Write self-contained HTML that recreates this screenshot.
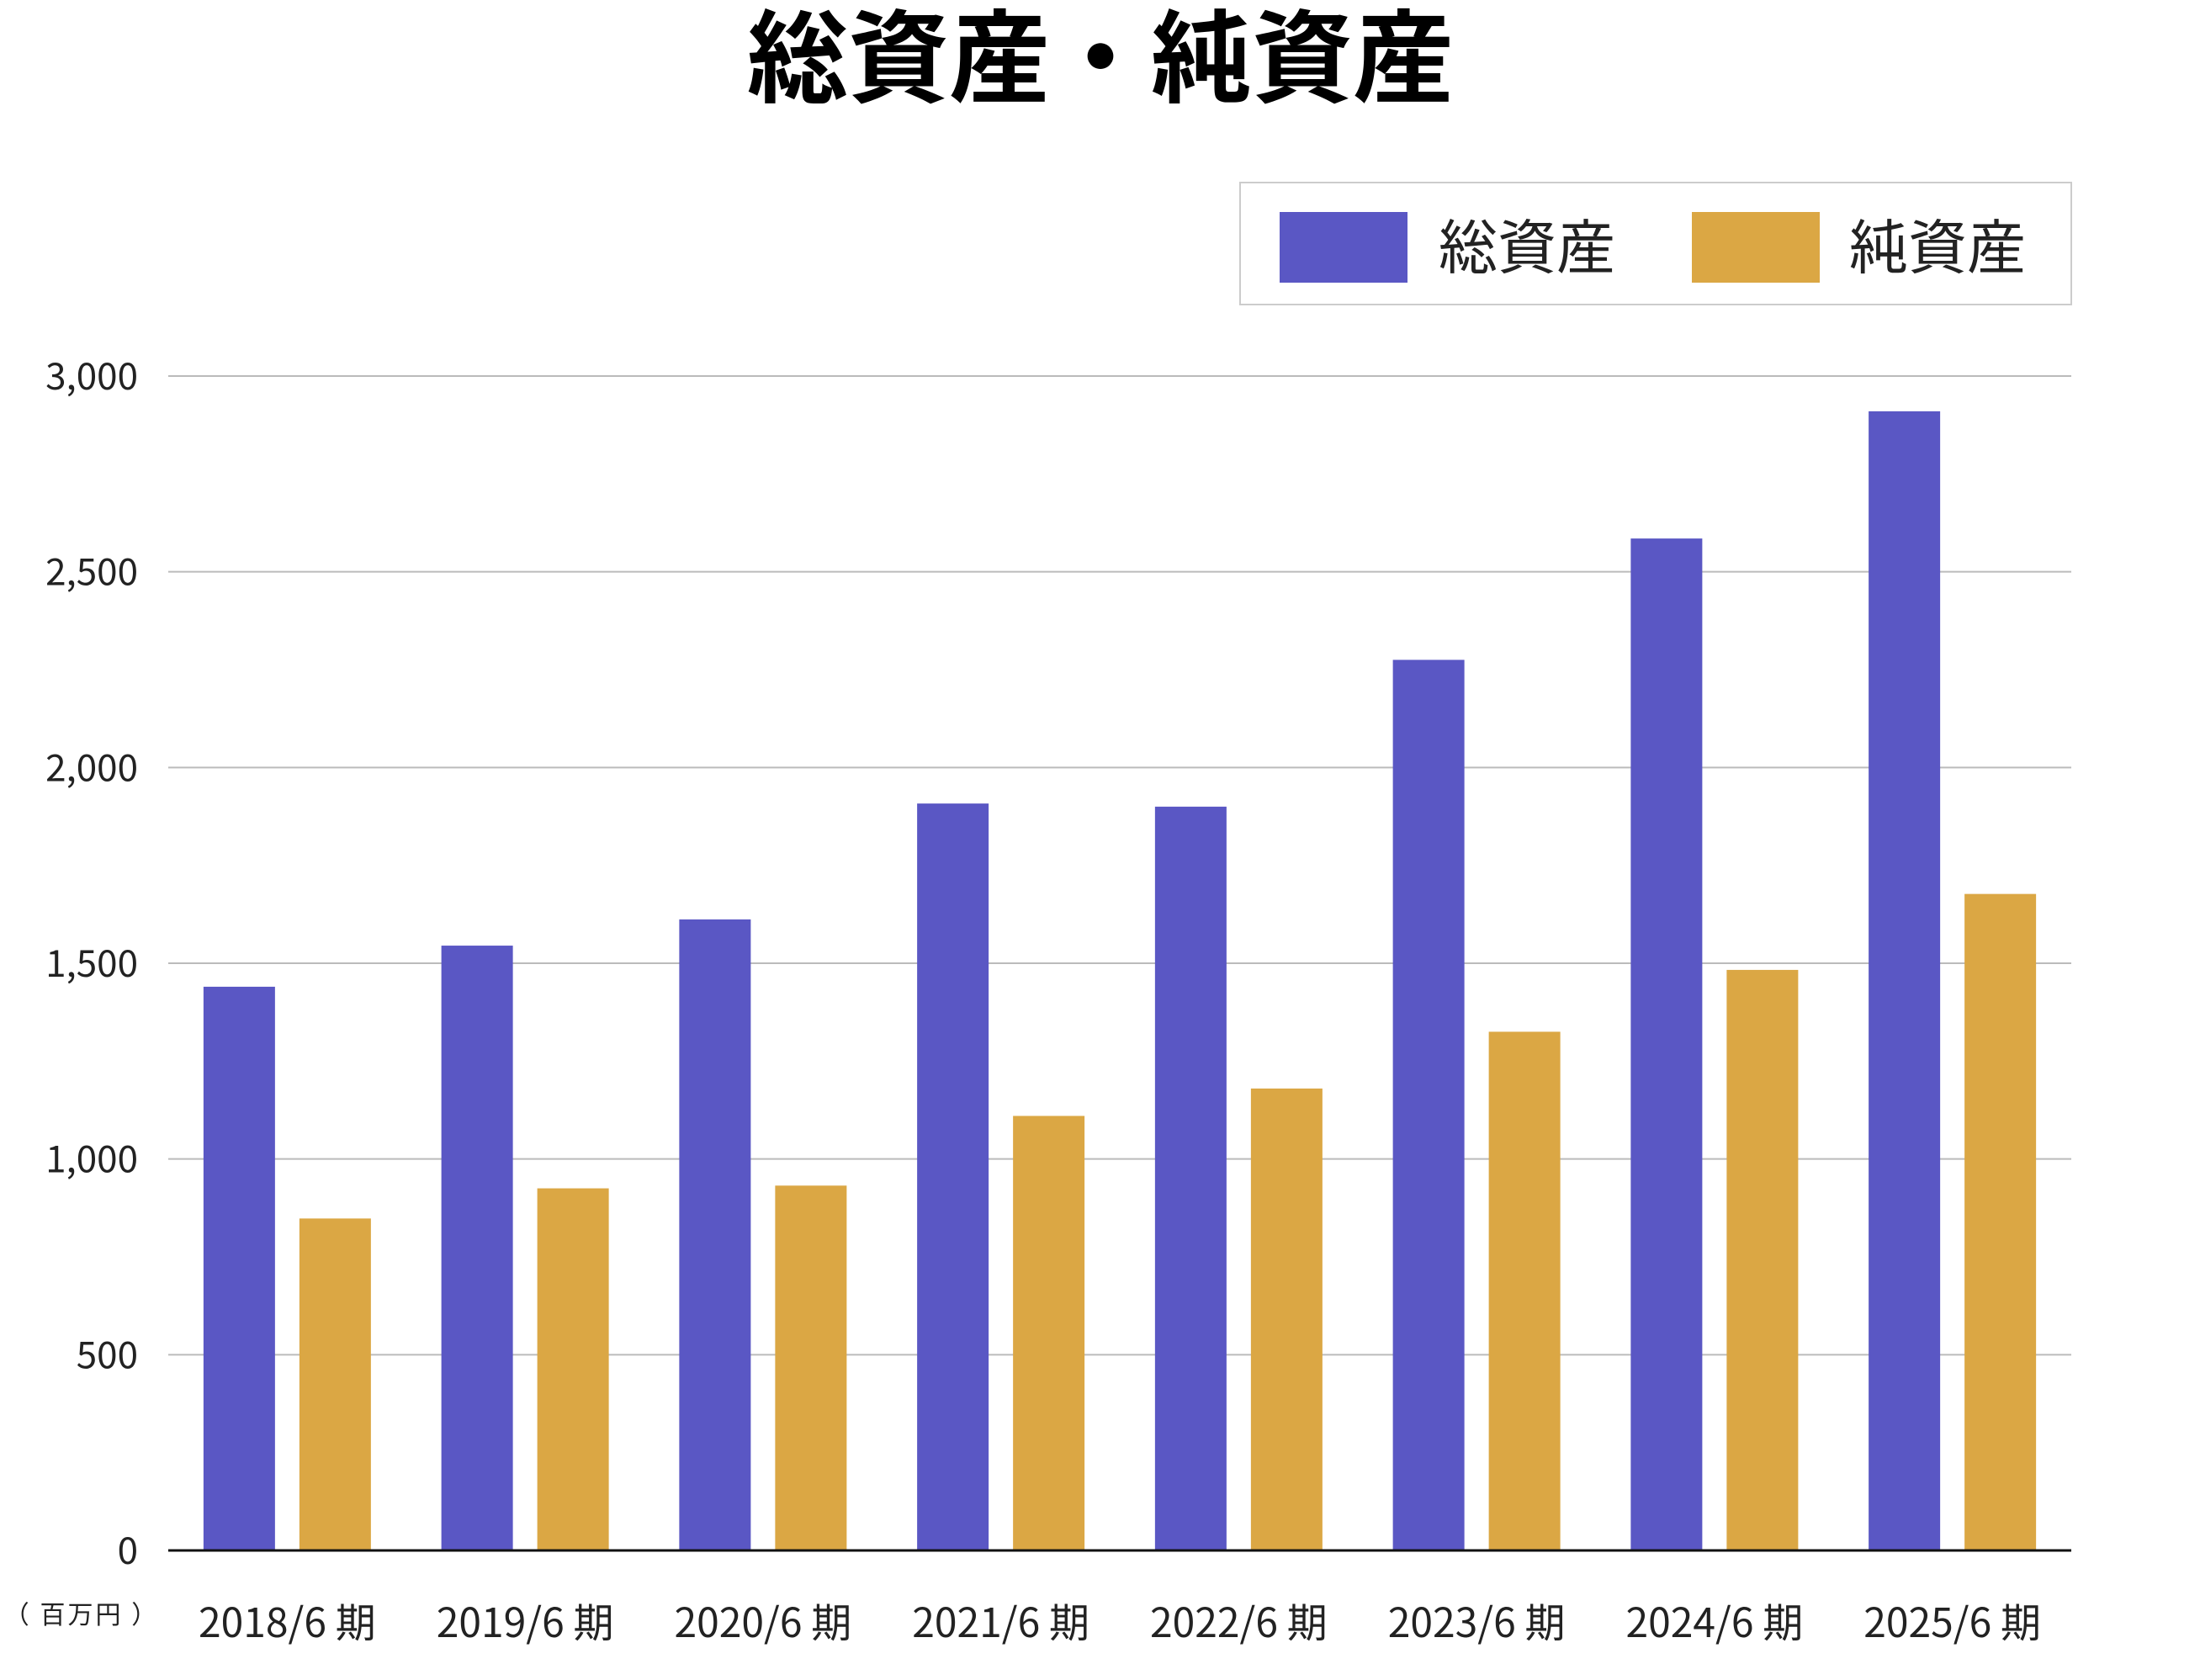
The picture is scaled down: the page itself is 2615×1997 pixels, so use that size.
<!DOCTYPE html>
<html><head><meta charset="utf-8"><style>
html,body{margin:0;padding:0;background:#fff;width:2615px;height:1997px;overflow:hidden}
text{font-family:"Noto Sans CJK JP","Liberation Sans",sans-serif}
</style></head><body>
<svg id="chart" width="2615" height="1997" xmlns="http://www.w3.org/2000/svg">
<text x="1308" y="112" text-anchor="middle" font-size="120" font-weight="bold" fill="#000">総資産・純資産</text>
<g>
<rect x="1474" y="217" width="988" height="145" fill="#fff" stroke="#ccc" stroke-width="2"/>
<rect x="1521" y="252" width="152" height="84" fill="#5a57c4"/>
<text x="1710" y="319" font-size="70" fill="#222">総資産</text>
<rect x="2011" y="252" width="152" height="84" fill="#dba744"/>
<text x="2198" y="319" font-size="70" fill="#222">純資産</text>
</g>
<g id="grid"></g><g id="bars"></g><g id="labels"></g>
<text x="97" y="1930" text-anchor="middle" font-size="30" letter-spacing="3" fill="#222">（ 百万円 ）</text>
</svg>
<script>
const categories=["2018/6 期","2019/6 期","2020/6 期","2021/6 期","2022/6 期","2023/6 期","2024/6 期","2025/6 期"];
const totalAssets=[1440,1545,1612,1908,1900,2275,2585,2910];
const netAssets=[848,925,932,1110,1180,1325,1483,1677];
const yTicks=[0,500,1000,1500,2000,2500,3000];
const NS="http://www.w3.org/2000/svg";
const X0=200,X1=2462,Y0=1843,Y1=447,YMAX=3000;
const y=v=>Y0-(v/YMAX)*(Y0-Y1);
const band=(X1-X0)/categories.length;
const x=i=>X0+band*i+band/2;
function mk(t,a,p){const e=document.createElementNS(NS,t);for(const k in a)e.setAttribute(k,a[k]);p.appendChild(e);return e;}
const grid=document.getElementById('grid'),bars=document.getElementById('bars'),labels=document.getElementById('labels');
yTicks.forEach(t=>{
 if(t>0){const l=mk('line',{x1:X0,x2:X1,y1:y(t),y2:y(t),stroke:'#bbb','stroke-width':2},grid);
 
 }
 const tx=mk('text',{x:164,y:y(t)+16,'text-anchor':'end','font-size':44,fill:'#222'},labels);
 tx.textContent=t.toLocaleString('en-US');
 
 
});
const BW=85,GAP=29;
categories.forEach((c,i)=>{
 const cx=x(i);
 const b1=mk('rect',{x:cx-GAP/2-BW,y:y(totalAssets[i]),width:BW,height:Y0-y(totalAssets[i]),fill:'#5a57c4'},bars);
 
 
 const b2=mk('rect',{x:cx+GAP/2,y:y(netAssets[i]),width:BW,height:Y0-y(netAssets[i]),fill:'#dba744'},bars);
 
 
 const tx=mk('text',{x:cx,y:1946,'text-anchor':'middle','font-size':48,fill:'#222'},labels);
 tx.textContent=c;
 
 
});
const ax=mk('line',{x1:X0,x2:X1,y1:Y0,y2:Y0,stroke:'#111','stroke-width':3},bars);


</script>
</body></html>
